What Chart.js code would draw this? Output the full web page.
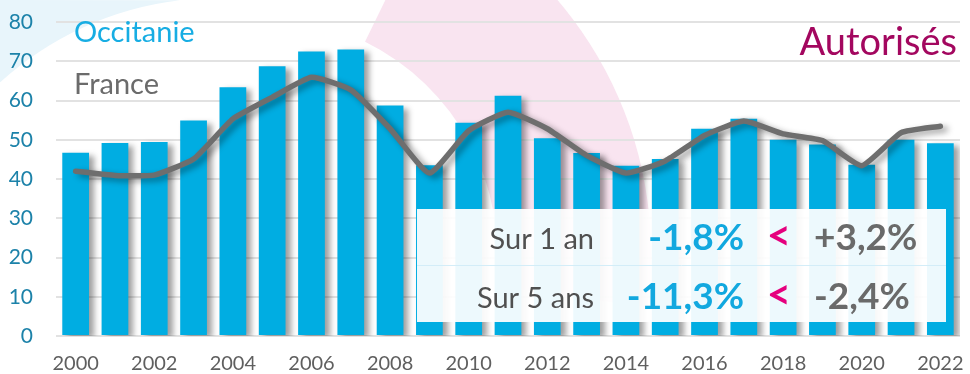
<!DOCTYPE html>
<html>
<head>
<meta charset="utf-8">
<script src="https://cdn.jsdelivr.net/npm/chart.js@4/dist/chart.umd.min.js"></script>
<style>
  html, body { margin: 0; padding: 0; background: #fff; }
  canvas { display: block; }
</style>
</head>
<body>
<canvas id="chart" width="970" height="374"></canvas>
<script>
// Logements autorisés (milliers) – Occitanie vs France (indice)
const years = ['2000','2001','2002','2003','2004','2005','2006','2007','2008','2009','2010',
               '2011','2012','2013','2014','2015','2016','2017','2018','2019','2020','2021','2022'];
const occitanie = [46.7, 49.2, 49.4, 54.9, 63.4, 68.7, 72.5, 73.0, 58.7, 43.5, 54.3,
                   61.2, 50.4, 46.6, 43.4, 45.1, 52.8, 55.35, 50.0, 48.8, 43.6, 50.0, 49.1];
const france    = [42.0, 40.9, 41.0, 45.1, 55.3, 60.8, 65.9, 62.7, 52.8, 41.5, 52.3,
                   57.0, 52.8, 46.0, 41.5, 44.6, 51.1, 54.75, 51.5, 49.8, 43.4, 51.8, 53.45];
const yMin = 0, yMax = 80, yStep = 10;
const seriesNames = ['Occitanie', 'France'];
const chartTitle = 'Autorisés';
const periodLabels = ['Sur 1 an', 'Sur 5 ans'];
const periodYears = [1, 5];

const FONT = 'Lato, "Open Sans", sans-serif';
const BLUE = '#00ade2';
const GREY_LINE = '#6e6e6e';

// Evolution over n years, French formatting: "-1,8%", "+3,2%"
function change(series, n) {
  const last = series[series.length - 1];
  const ref = series[series.length - 1 - n];
  const pct = (last / ref - 1) * 100;
  const s = Math.abs(pct).toFixed(1).replace('.', ',');
  return (pct >= 0 ? '+' : '-') + s + '%';
}

// Decorative background shapes
const backdrop = {
  id: 'backdrop',
  beforeDraw(chart) {
    const { ctx, width, height } = chart;
    ctx.save();
    ctx.fillStyle = '#ffffff';
    ctx.fillRect(0, 0, width, height);
    // pale blue corner
    ctx.beginPath();
    ctx.moveTo(0, 0);
    ctx.lineTo(0, 82);
    ctx.arc(218, 322, 324, Math.atan2(-240, -218), Math.atan2(-322, -38), false);
    ctx.lineTo(0, 0);
    ctx.closePath();
    ctx.fillStyle = '#e8f5fb';
    ctx.fill();
    // pink sweep
    const a0 = -64 * Math.PI / 180, a1 = 8 * Math.PI / 180;
    ctx.beginPath();
    ctx.arc(262, 253, 389, a0, a1, false);
    ctx.arc(262, 253, 235, a1, a0, true);
    ctx.closePath();
    ctx.fillStyle = '#f9e4f0';
    ctx.fill();
    ctx.restore();
  }
};

// Soft drop shadow under bars and line
const shadows = {
  id: 'shadows',
  beforeDatasetDraw(chart) {
    const ctx = chart.ctx;
    ctx.save();
    ctx.shadowColor = 'rgba(0,0,0,0.38)';
    ctx.shadowBlur = 6;
    ctx.shadowOffsetX = 5;
    ctx.shadowOffsetY = 3;
  },
  afterDatasetDraw(chart) {
    chart.ctx.restore();
  }
};

// Series names, title and the comparison panel
const annotations = {
  id: 'annotations',
  afterDraw(chart) {
    const ctx = chart.ctx;
    ctx.save();
    ctx.textBaseline = 'alphabetic';

    ctx.font = '29px ' + FONT;
    ctx.textAlign = 'left';
    ctx.fillStyle = '#17ade3';
    ctx.fillText(seriesNames[0], 74, 42);
    ctx.fillStyle = '#6b6b6b';
    ctx.fillText(seriesNames[1], 74, 94);

    ctx.font = '38px ' + FONT;
    ctx.textAlign = 'right';
    ctx.fillStyle = '#a3075f';
    ctx.fillText(chartTitle, 957, 55);

    // panel
    const x0 = 417, x1 = 946, y0 = 209, y1 = 322;
    ctx.fillStyle = 'rgba(255,255,255,0.93)';
    ctx.fillRect(x0, y0, x1 - x0, y1 - y0);
    ctx.strokeStyle = '#d3edf8';
    ctx.lineWidth = 1;
    ctx.beginPath();
    ctx.moveTo(x0, 265.5);
    ctx.lineTo(x1, 265.5);
    ctx.stroke();

    const baselines = [249, 308];
    periodLabels.forEach((lab, i) => {
      const yb = baselines[i];
      ctx.font = '29px ' + FONT;
      ctx.textAlign = 'right';
      ctx.fillStyle = '#505050';
      ctx.fillText(lab, 594, yb);

      ctx.font = 'bold 37px ' + FONT;
      ctx.fillStyle = '#12a8df';
      ctx.fillText(change(occitanie, periodYears[i]), 744, yb + 1);

      ctx.font = 'bold 42px ' + FONT;
      ctx.textAlign = 'center';
      ctx.fillStyle = '#e5007e';
      ctx.fillText('<', 779, yb + 1);

      ctx.font = 'bold 37px ' + FONT;
      ctx.textAlign = 'left';
      ctx.fillStyle = '#6a6a6a';
      ctx.fillText(change(france, periodYears[i]), 814, yb + 1);
    });
    ctx.restore();
  }
};

new Chart(document.getElementById('chart'), {
  type: 'bar',
  data: {
    labels: years,
    datasets: [
      {
        type: 'line',
        label: seriesNames[1],
        data: france,
        borderColor: GREY_LINE,
        borderWidth: 5.5,
        pointRadius: 0,
        tension: 0.15,
        borderJoinStyle: 'round',
        borderCapStyle: 'round',
        order: 0
      },
      {
        type: 'bar',
        label: seriesNames[0],
        data: occitanie,
        backgroundColor: BLUE,
        borderWidth: 0,
        categoryPercentage: 1,
        barPercentage: 0.68,
        order: 1
      }
    ]
  },
  options: {
    responsive: false,
    animation: false,
    events: [],
    layout: { autoPadding: false, padding: { top: 22, right: 10, left: 0, bottom: 0 } },
    plugins: { legend: { display: false }, tooltip: { enabled: false } },
    scales: {
      x: {
        grid: { display: false, drawTicks: false },
        border: { display: false },
        ticks: {
          autoSkip: false,
          maxRotation: 0,
          padding: 16,
          color: '#5f5f5f',
          font: { family: FONT, size: 20 },
          callback: (v, i) => (i % 2 === 0 ? years[i] : '')
        },
        afterFit: s => { s.height = 38; s.paddingLeft = 0; s.paddingRight = 0; }
      },
      y: {
        min: yMin,
        max: yMax,
        grid: { color: '#e2e2e2', lineWidth: 2, drawTicks: false },
        border: { display: false },
        ticks: {
          stepSize: yStep,
          padding: 23,
          color: '#1c82a9',
          font: { family: FONT, size: 21 }
        },
        afterFit: s => { s.width = 56; s.paddingTop = 0; s.paddingBottom = 0; }
      }
    }
  },
  plugins: [backdrop, shadows, annotations]
});
</script>
</body>
</html>
